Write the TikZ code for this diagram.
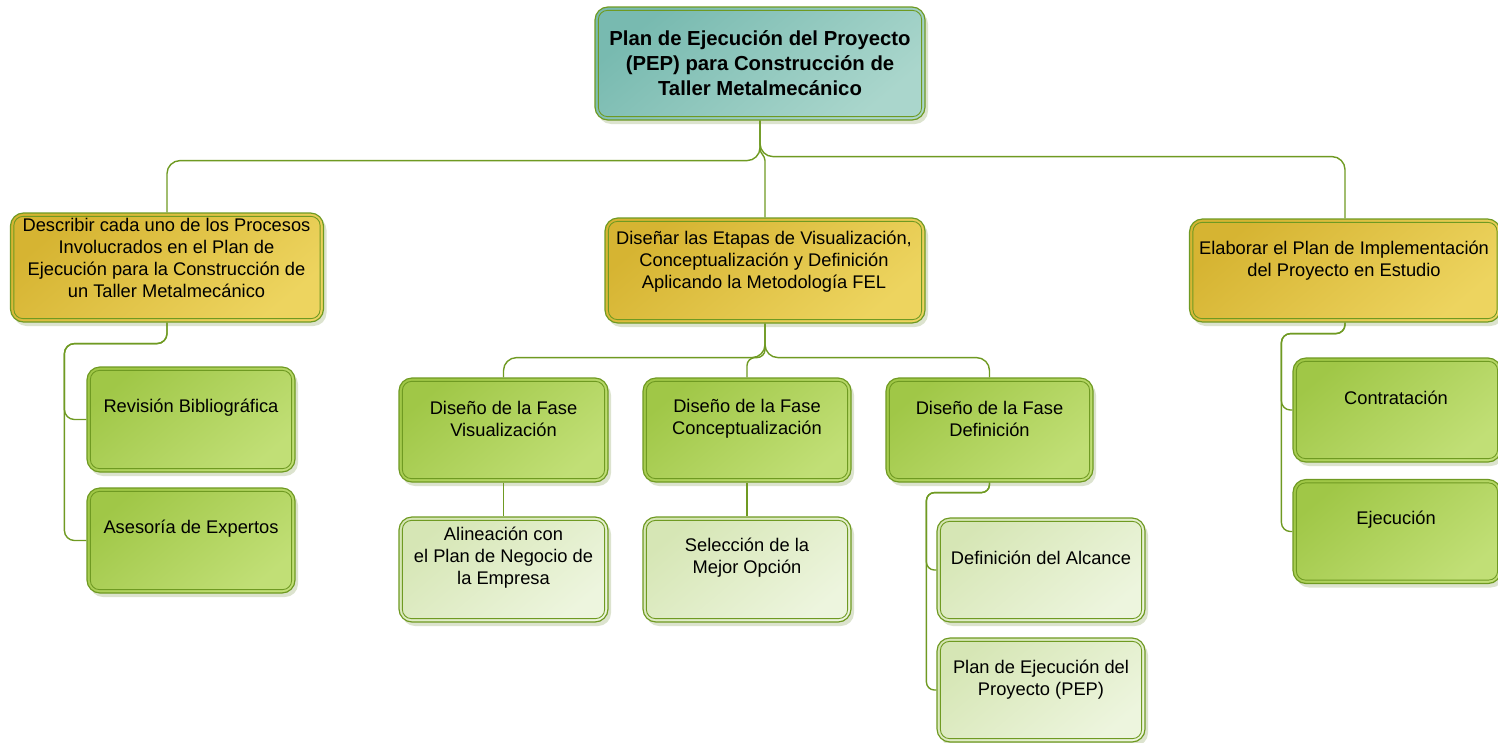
\documentclass[tikz,border=0pt]{standalone}
\usepackage{fontspec}
\setmainfont{Liberation Sans}
\usetikzlibrary{shadows}

\definecolor{edgecol}{HTML}{6F9A22}
\definecolor{tealA}{HTML}{78BAB0}
\definecolor{tealB}{HTML}{AAD6CC}
\definecolor{goldA}{HTML}{D6B432}
\definecolor{goldB}{HTML}{EDD45F}
\definecolor{greenA}{HTML}{A0C747}
\definecolor{greenB}{HTML}{C1DF76}
\definecolor{paleA}{HTML}{D6E6B5}
\definecolor{paleB}{HTML}{EDF5DE}
\definecolor{shadecol}{HTML}{BFCCA6}

\tikzset{
  x=1pt, y=-1pt,
  boxbase/.style={rectangle, rounded corners=13, draw=edgecol, line width=1.2,
    minimum width=208, minimum height=105, inner sep=0,
    drop shadow={shadow xshift=3pt, shadow yshift=-4pt, fill=shadecol, opacity=0.55}},
  rootbox/.style={boxbase, top color=tealA, bottom color=tealB, shading angle=40},
  goldbox/.style={boxbase, top color=goldA, bottom color=goldB, shading angle=40},
  greenbox/.style={boxbase, top color=greenA, bottom color=greenB, shading angle=40},
  palebox/.style={boxbase, top color=paleA, bottom color=paleB, shading angle=40},
  innerline/.style={draw=edgecol, line width=0.9, rounded corners=9},
  lbl/.style={align=center, inner sep=0, text=black,
    font=\fontsize{18.3}{22}\selectfont},
  rootlbl/.style={align=center, inner sep=0, text=black,
    font=\fontsize{20.3}{25}\selectfont\bfseries},
  conn/.style={draw=edgecol, line width=1.4, rounded corners=13},
}

% second, inset outline of a box
\newcommand\innerframe[1]{%
  \draw[innerline] ([xshift=4pt,yshift=-4pt]#1.north west) rectangle ([xshift=-4pt,yshift=4pt]#1.south east);}

\begin{document}
\begin{tikzpicture}
\useasboundingbox (0,0) rectangle (1498,742);

% ---------- boxes ----------
\node[rootbox, minimum width=330, minimum height=113] (root) at (760,63.5) {};
\innerframe{root}
\node[rootlbl] (root-t) at (760,63) {Plan de Ejecución del Proyecto\\(PEP) para Construcción de\\Taller Metalmecánico};

\node[goldbox, minimum width=313, minimum height=109] (desc) at (167,267.5) {};
\innerframe{desc}
\node[lbl] (desc-t) at (166.5,257.5) {Describir cada uno de los Procesos\\Involucrados en el Plan de\\Ejecución para la Construcción de\\un Taller Metalmecánico};

\node[goldbox, minimum width=320, minimum height=105] (dis) at (765,270.5) {};
\innerframe{dis}
\node[lbl] (dis-t) at (764,262) {Diseñar las Etapas de Visualización,\\Conceptualización y Definición\\Aplicando la Metodología FEL};

\node[goldbox, minimum width=311, minimum height=103] (elab) at (1345,270.5) {};
\innerframe{elab}
\node[lbl] (elab-t) at (1344,260.5) {Elaborar el Plan de Implementación\\del Proyecto en Estudio};

\node[greenbox] (rev) at (191,419.5) {};
\innerframe{rev}
\node[lbl] (rev-t) at (191,408) {Revisión Bibliográfica};

\node[greenbox] (ase) at (191,540.5) {};
\innerframe{ase}
\node[lbl] (ase-t) at (191,529) {Asesoría de Expertos};

\node[greenbox, minimum width=209, minimum height=104] (vis) at (503.5,430) {};
\innerframe{vis}
\node[lbl] (vis-t) at (503.5,419) {Diseño de la Fase\\Visualización};

\node[greenbox, minimum height=104] (con) at (747,430) {};
\innerframe{con}
\node[lbl] (con-t) at (747,419) {Diseño de la Fase\\Conceptualización};

\node[greenbox, minimum width=207, minimum height=104] (def) at (989.5,430) {};
\innerframe{def}
\node[lbl] (def-t) at (989.5,419) {Diseño de la Fase\\Definición};

\node[palebox, minimum width=209] (ali) at (503.5,569.5) {};
\innerframe{ali}
\node[lbl] (ali-t) at (503.5,558) {Alineación con\\el Plan de Negocio de\\la Empresa};

\node[palebox] (sel) at (747,569.5) {};
\innerframe{sel}
\node[lbl] (sel-t) at (747,558) {Selección de la\\Mejor Opción};

\node[palebox, minimum height=104] (alc) at (1041,570) {};
\innerframe{alc}
\node[lbl] (alc-t) at (1041,558) {Definición del Alcance};

\node[palebox, minimum height=104] (pep) at (1041,690) {};
\innerframe{pep}
\node[lbl] (pep-t) at (1041,679.5) {Plan de Ejecución del\\Proyecto (PEP)};

\node[greenbox, minimum height=104] (contr) at (1397,410) {};
\innerframe{contr}
\node[lbl] (contr-t) at (1396,398) {Contratación};

\node[greenbox, minimum height=104] (ejec) at (1397,531.5) {};
\innerframe{ejec}
\node[lbl] (ejec-t) at (1396,520) {Ejecución};

% ---------- connectors ----------
\draw[conn] (root.south) -- ++(0,40) -| (desc.north);
\draw[conn] (root.south) -- ++(0,36) -| (elab.north);
\draw[conn, rounded corners=0] (root.south) -- ++(0,28) to[out=-90,in=90] ++(5,12) -- (dis.north);

\draw[conn, rounded corners=10] (desc.south) -- ++(0,21) -| ([xshift=-22pt]rev.west) -- (rev.west);
\draw[conn, rounded corners=10] (desc.south) -- ++(0,21) -| ([xshift=-22pt]ase.west) -- (ase.west);

\draw[conn] (dis.south) -- ++(0,34) -| (vis.north);
\draw[conn, rounded corners=8] (dis.south) -- ++(0,34) -| (con.north);
\draw[conn] (dis.south) -- ++(0,34) -| (def.north);

\draw[conn] (vis.south) -- (ali.north);
\draw[conn] (con.south) -- (sel.north);

\draw[conn, rounded corners=8] (def.south) -- ++(0,10) -| ([xshift=-10pt]alc.west) -- (alc.west);
\draw[conn, rounded corners=8] (def.south) -- ++(0,10) -| ([xshift=-10pt]pep.west) -- (pep.west);

\draw[conn, rounded corners=9] (elab.south) -- ++(0,11) -| ([xshift=-11pt]contr.west) -- (contr.west);
\draw[conn, rounded corners=9] (elab.south) -- ++(0,11) -| ([xshift=-11pt]ejec.west) -- (ejec.west);
\end{tikzpicture}
\end{document}
